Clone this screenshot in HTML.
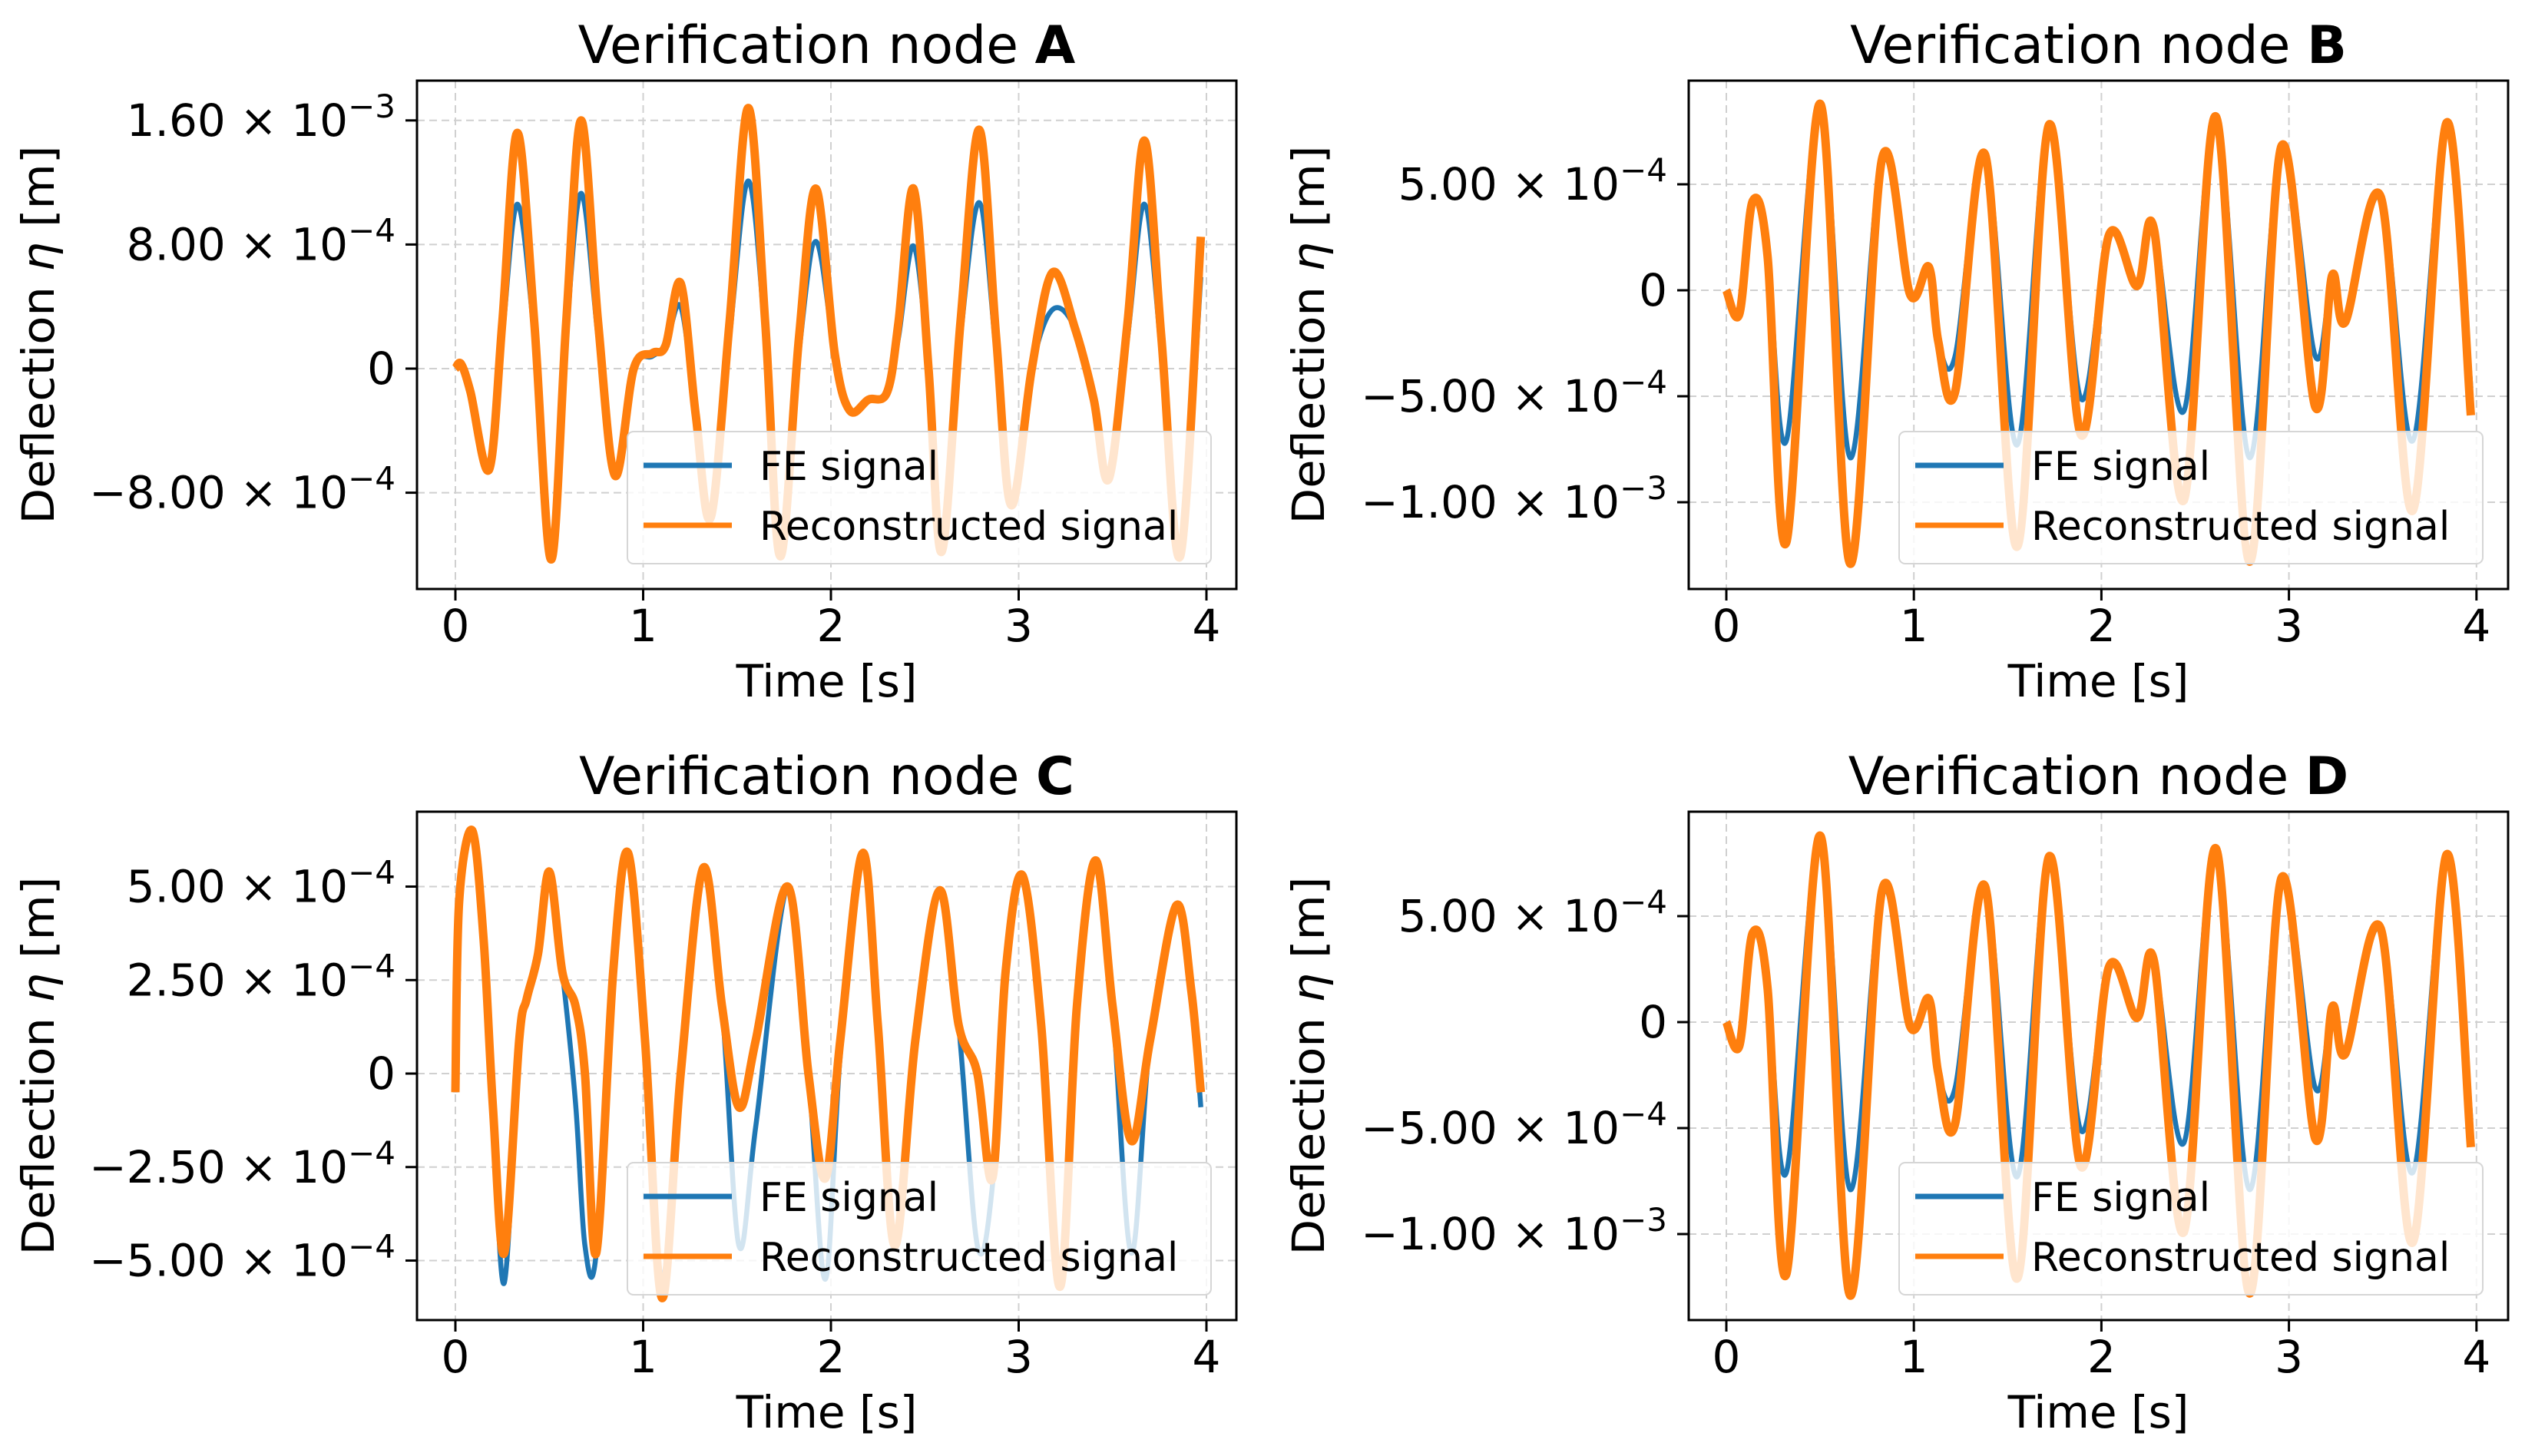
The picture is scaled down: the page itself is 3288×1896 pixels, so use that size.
<!DOCTYPE html>
<html><head><meta charset="utf-8"><style>
html,body{margin:0;padding:0;background:#fff;}
svg{display:block;font-family:"DejaVu Sans","Liberation Sans",sans-serif;}
</style></head><body>
<svg id="fig" width="3288" height="1896" viewBox="0 0 3288 1896" xmlns="http://www.w3.org/2000/svg"></svg>
<script>
// ---- data (deflection in units of 1e-4 m) ----
const timesA=[0,0.03,0.08,0.18,0.25,0.33,0.42,0.51,0.59,0.67,0.76,0.85,0.95,1.05,1.12,1.2,1.28,1.36,1.46,1.56,1.65,1.73,1.83,1.92,2.02,2.1,2.2,2.3,2.36,2.44,2.52,2.59,2.69,2.79,2.88,2.96,3.07,3.18,3.3,3.4,3.48,3.58,3.67,3.76,3.86,3.97];
const feA=[0,0.3,-1.5,-6.5,2,10.6,2,-12.3,2,11.3,2,-6.9,0,0.8,1.5,4,-3,-9.6,2,12.1,2,-12.1,1,8.2,1,-2.7,-2,-1.5,2,7.9,0,-11.8,2,10.7,1,-8.8,0,3.8,2.6,-2,-7.1,2,10.6,1,-12.1,5.9];
const recA=[0,0.3,-1.5,-6.5,3,15.2,3,-12.3,3,16,3,-6.9,0,1,1.5,5.5,-3,-9.6,3,16.8,3,-12.1,2,11.6,1,-2.7,-2,-1.5,3,11.6,0,-11.8,3,15.4,2,-8.8,0,6.2,2.6,-2,-7.1,3,14.7,2,-12.1,8.5];

const timesB=[0,0.07,0.14,0.22,0.32,0.5,0.66,0.83,0.98,1.08,1.13,1.22,1.38,1.55,1.72,1.89,2.04,2.19,2.28,2.44,2.61,2.79,2.96,3.14,3.23,3.3,3.49,3.66,3.84,3.97];
const feB=[0,-1.1,4.2,1.6,-7.1,8.8,-7.9,6.2,-0.2,1.1,-2.4,-3.1,6.4,-7.3,7.8,-5.1,2.6,0.2,2.9,-5.7,8.2,-7.9,6.8,-3.1,0.7,-1.5,4.4,-7.1,7.9,-4.6];
const recB=[0,-1.1,4.2,1.6,-11.9,8.8,-12.9,6.2,-0.2,1.1,-2.4,-4.8,6.4,-12.1,7.8,-6.8,2.6,0.2,2.9,-9.9,8.2,-12.8,6.8,-5.5,0.7,-1.5,4.4,-10.4,7.9,-5.9];

const timesC=[0,0.02,0.09,0.15,0.2,0.26,0.34,0.38,0.44,0.5,0.57,0.64,0.69,0.75,0.84,0.92,1.01,1.1,1.2,1.32,1.42,1.51,1.6,1.77,1.88,1.97,2.05,2.17,2.25,2.34,2.45,2.58,2.68,2.78,2.86,2.93,3.02,3.12,3.22,3.31,3.41,3.5,3.6,3.7,3.84,3.92,3.97];
const feC=[-0.5,4.6,6.5,3.6,-0.9,-5.6,0.9,2.0,3.2,5.4,2.7,-0.8,-4.6,-4.8,2.7,5.9,0.9,-5.5,0,5.5,1.8,-4.6,-1.4,5.0,0,-5.5,0.5,5.9,1.3,-4.6,0.9,4.9,1.3,-4.6,-3.0,2.7,5.3,1.3,-5.2,1.8,5.7,1.8,-4.8,0.9,4.5,2.2,-0.9];
const recC=[-0.5,4.6,6.5,3.6,-0.9,-4.8,0.9,2.0,3.2,5.4,2.7,1.8,0,-4.8,2.7,5.9,0.9,-6.0,0,5.5,1.8,-0.9,0.9,5.0,0,-2.8,0.9,5.9,1.3,-4.6,0.9,4.9,1.3,0,-2.8,2.7,5.3,1.3,-5.7,1.8,5.7,1.8,-1.8,0.9,4.5,2.2,-0.5];

const timesD=[0,0.07,0.14,0.22,0.32,0.5,0.66,0.83,0.98,1.08,1.13,1.22,1.38,1.55,1.72,1.89,2.04,2.19,2.28,2.44,2.61,2.79,2.96,3.14,3.23,3.3,3.49,3.66,3.84,3.97];
const feD=[0,-1.1,4.2,1.6,-7.1,8.8,-7.9,6.2,-0.2,1.1,-2.4,-3.1,6.4,-7.3,7.8,-5.1,2.6,0.2,2.9,-5.7,8.2,-7.9,6.8,-3.1,0.7,-1.5,4.4,-7.1,7.9,-4.6];
const recD=[0,-1.1,4.2,1.6,-11.9,8.8,-12.9,6.2,-0.2,1.1,-2.4,-4.8,6.4,-12.1,7.8,-6.8,2.6,0.2,2.9,-9.9,8.2,-12.8,6.8,-5.5,0.7,-1.5,4.4,-10.4,7.9,-5.9];

const xTicks=[0,1,2,3,4];
const yTicksA=[16,8,0,-8];
const yLabelsA=[["1.60","−3"],["8.00","−4"],["0",""],["−8.00","−4"]];
const yTicksB=[5,0,-5,-10];
const yLabelsB=[["5.00","−4"],["0",""],["−5.00","−4"],["−1.00","−3"]];
const yTicksC=[5,2.5,0,-2.5,-5];
const yLabelsC=[["5.00","−4"],["2.50","−4"],["0",""],["−2.50","−4"],["−5.00","−4"]];
const yTicksD=[5,0,-5,-10];
const yLabelsD=[["5.00","−4"],["0",""],["−5.00","−4"],["−1.00","−3"]];

const NS="http://www.w3.org/2000/svg";
const svg=document.getElementById('fig');
function mk(tag,attrs,parent){const e=document.createElementNS(NS,tag);for(const k in attrs)e.setAttribute(k,attrs[k]);(parent||svg).appendChild(e);return e;}

function smoothPath(pts){
  let d='M'+pts[0][0].toFixed(1)+','+pts[0][1].toFixed(1);
  for(let i=0;i<pts.length-1;i++){
    const p0=pts[Math.max(0,i-1)],p1=pts[i],p2=pts[i+1],p3=pts[Math.min(pts.length-1,i+2)];
    const c1x=p1[0]+(p2[0]-p0[0])/6,c1y=p1[1]+(p2[1]-p0[1])/6;
    const c2x=p2[0]-(p3[0]-p1[0])/6,c2y=p2[1]-(p3[1]-p1[1])/6;
    d+=' C'+c1x.toFixed(1)+','+c1y.toFixed(1)+' '+c2x.toFixed(1)+','+c2y.toFixed(1)+' '+p2[0].toFixed(1)+','+p2[1].toFixed(1);
  }
  return d;
}

function panel(cfg){
  const g=mk('g',{});
  
  
  const {L,R,T,B,x0,xs,y0,ys}=cfg;
  const X=t=>x0+t*xs, Y=v=>y0-v*ys;
  xTicks.forEach(t=>{const l=mk('line',{x1:X(t),x2:X(t),y1:T,y2:B,stroke:'#d0d0d0','stroke-width':2,'stroke-dasharray':'10,6'},g);
    });
  cfg.yt.forEach(v=>{const l=mk('line',{x1:L,x2:R,y1:Y(v),y2:Y(v),stroke:'#d0d0d0','stroke-width':2,'stroke-dasharray':'10,6'},g);
    });
  const cp=mk('clipPath',{id:'clip'+cfg.id},g);mk('rect',{x:L,y:T,width:R-L,height:B-T},cp);
  const fe=mk('path',{d:smoothPath(cfg.t.map((t,i)=>[X(t),Y(cfg.fe[i])])),fill:'none',stroke:'#1f77b4','stroke-width':6.5,'stroke-linejoin':'round','clip-path':'url(#clip'+cfg.id+')'},g);
  
  const rc=mk('path',{d:smoothPath(cfg.t.map((t,i)=>[X(t),Y(cfg.rec[i])])),fill:'none',stroke:'#ff7f0e','stroke-width':11,'stroke-linejoin':'round','clip-path':'url(#clip'+cfg.id+')'},g);
  
  const lw=760,lh=172,lx=R-33-lw,ly=B-33-lh;
  const lg=mk('g',{},g);
  mk('rect',{x:lx,y:ly,width:lw,height:lh,rx:8,fill:'rgba(255,255,255,0.8)',stroke:'#d6d6d6','stroke-width':2},lg);
  mk('line',{x1:lx+21,x2:lx+136,y1:ly+44,y2:ly+44,stroke:'#1f77b4','stroke-width':7},lg);
  mk('line',{x1:lx+21,x2:lx+136,y1:ly+122,y2:ly+122,stroke:'#ff7f0e','stroke-width':7},lg);
  const t1=mk('text',{x:lx+172,y:ly+63,'font-size':52,fill:'#000'},lg);t1.textContent='FE signal';
  
  const t2=mk('text',{x:lx+172,y:ly+141,'font-size':52,fill:'#000'},lg);t2.textContent='Reconstructed signal';
  
  const bx=mk('rect',{x:L,y:T,width:R-L,height:B-T,fill:'none',stroke:'#000','stroke-width':3},g);
  
  xTicks.forEach(t=>{mk('line',{x1:X(t),x2:X(t),y1:B,y2:B+15,stroke:'#000','stroke-width':3},g);
    const tx=mk('text',{x:X(t),y:B+68,'font-size':58,'text-anchor':'middle'},g);tx.textContent=t;
    });
  cfg.yt.forEach((v,i)=>{mk('line',{x1:L-15,x2:L,y1:Y(v),y2:Y(v),stroke:'#000','stroke-width':3},g);
    const lab=cfg.yl[i];
    const tx=mk('text',{x:L-28,y:Y(v)+20,'font-size':58,'text-anchor':'end'},g);
    
    if(lab[1]){
      const a=mk('tspan',{},tx);a.textContent=lab[0]+' × 10';
      const b=mk('tspan',{dy:-24,'font-size':42},tx);b.textContent=lab[1];
    } else tx.textContent=lab[0];
  });
  const xl=mk('text',{x:(L+R)/2,y:B+140,'font-size':58,'text-anchor':'middle'},g);xl.textContent='Time [s]';
  
  const cy=(T+B)/2;
  const yl=mk('text',{x:cfg.ylx,y:cy,'font-size':58,'text-anchor':'middle',transform:'rotate(-90 '+cfg.ylx+' '+cy+')',textLength:493,lengthAdjust:'spacingAndGlyphs'},g);
  
  const y1=mk('tspan',{},yl);y1.textContent='Deflection ';
  const y2=mk('tspan',{'font-style':'italic'},yl);y2.textContent='η';
  const y3=mk('tspan',{},yl);y3.textContent=' [m]';
  const ti=mk('text',{x:(L+R)/2,y:T-23,'font-size':68,'text-anchor':'middle'},g);
  
  const s1=mk('tspan',{},ti);s1.textContent='Verification node ';
  const s2=mk('tspan',{'font-weight':'bold'},ti);s2.textContent=cfg.id;
}

panel({id:'A',L:543,R:1610,T:105,B:767,x0:593,xs:244.5,y0:480,ys:20.2,t:timesA,fe:feA,rec:recA,yt:yTicksA,yl:yLabelsA,ylx:70});
panel({id:'B',L:2199,R:3266,T:105,B:767,x0:2248,xs:244.2,y0:378,ys:27.6,t:timesB,fe:feB,rec:recB,yt:yTicksB,yl:yLabelsB,ylx:1724});
panel({id:'C',L:543,R:1610,T:1057,B:1719,x0:593,xs:244.5,y0:1398,ys:48.7,t:timesC,fe:feC,rec:recC,yt:yTicksC,yl:yLabelsC,ylx:70});
panel({id:'D',L:2199,R:3266,T:1057,B:1719,x0:2248,xs:244.2,y0:1331,ys:27.6,t:timesD,fe:feD,rec:recD,yt:yTicksD,yl:yLabelsD,ylx:1724});
</script>
</body></html>
